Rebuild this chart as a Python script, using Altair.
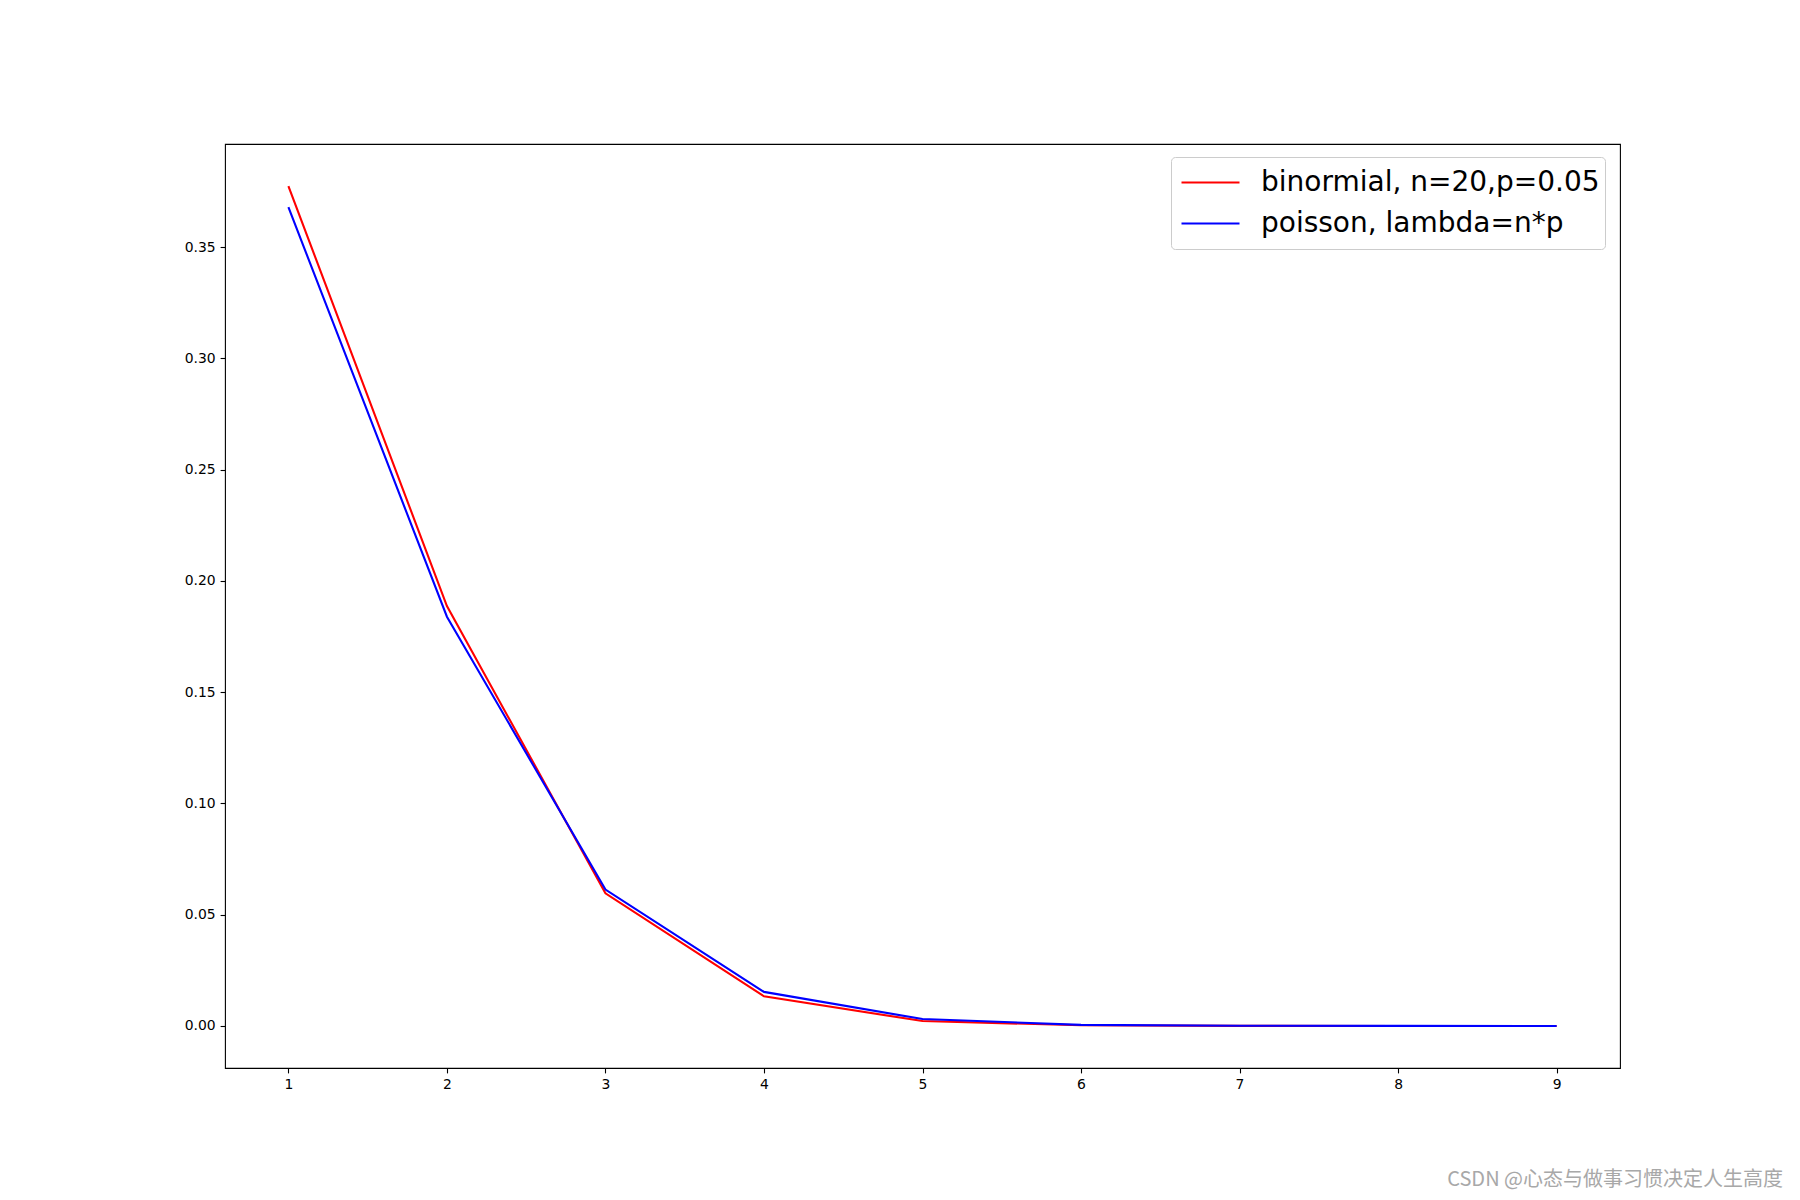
import altair as alt
import pandas as pd

x_vals = [1, 2, 3, 4, 5, 6, 7, 8, 9]
binom_vals = [0.3774, 0.1887, 0.0596, 0.0133, 0.0022, 0.0003, 0.00003, 0.000002, 0.0000001]
poisson_vals = [0.3679, 0.1839, 0.0613, 0.0153, 0.0031, 0.0005, 0.00007, 0.000009, 0.000001]
series_names = ["binormial, n=20,p=0.05", "poisson, lambda=n*p"]
series_colors = ["#ff0000", "#0000ff"]
y_ticks = [0.0, 0.05, 0.10, 0.15, 0.20, 0.25, 0.30, 0.35]
watermark = ["CSDN @心态与做事习惯决定人生高度"]

rows = []
for xv, b in zip(x_vals, binom_vals):
    rows.append({"x": xv, "y": b, "series": series_names[0]})
for xv, p in zip(x_vals, poisson_vals):
    rows.append({"x": xv, "y": p, "series": series_names[1]})
df = pd.DataFrame(rows)

FONT = "DejaVu Sans"

lines = alt.Chart(df).mark_line(strokeWidth=2.1, clip=False).encode(
    x=alt.X("x:Q", scale=alt.Scale(domain=[0.6, 9.4], nice=False, zero=False),
            axis=alt.Axis(values=x_vals, format="d", title=None, grid=False, domain=False,
                          tickSize=4.9, tickWidth=1.1, tickColor="black", labelPadding=4.9,
                          labelFont=FONT, labelFontSize=13.9, labelColor="black")),
    y=alt.Y("y:Q", scale=alt.Scale(domain=[-0.0189, 0.3963], nice=False, zero=False),
            axis=alt.Axis(values=y_ticks, format=".2f", title=None, grid=False, domain=False,
                          tickSize=4.9, tickWidth=1.1, tickColor="black", labelPadding=4.9,
                          labelFont=FONT, labelFontSize=13.9, labelColor="black")),
    color=alt.Color("series:N",
                    scale=alt.Scale(domain=series_names, range=series_colors),
                    legend=alt.Legend(title=None, orient="none", legendX=946, legendY=13,
                                      symbolType="stroke", symbolSize=3364, symbolStrokeWidth=2.1,
                                      symbolOffset=4, clipHeight=41, rowPadding=0,
                                      labelFont=FONT, labelFontSize=28, labelColor="black",
                                      labelOffset=20,
                                      strokeColor="#cccccc", fillColor="white", cornerRadius=4,
                                      padding=5, labelLimit=1000)),
    detail="series:N",
)

wm = alt.Chart(pd.DataFrame({"t": watermark})).mark_text(
    align="right", baseline="middle", font="Noto Sans CJK SC", fontSize=20, color="#a8a8a8"
).encode(x=alt.value(1558), y=alt.value(1036), text="t:N")

chart = alt.layer(lines, wm).properties(
    width=1395, height=924,
    autosize=alt.AutoSizeParams(type="none"),
    padding={"left": 217, "top": 136, "right": 172, "bottom": 124},
    background="white",
).configure_view(stroke="black", strokeWidth=1.1)

chart.save("out.html", embed_options={"renderer": "svg", "actions": False})
